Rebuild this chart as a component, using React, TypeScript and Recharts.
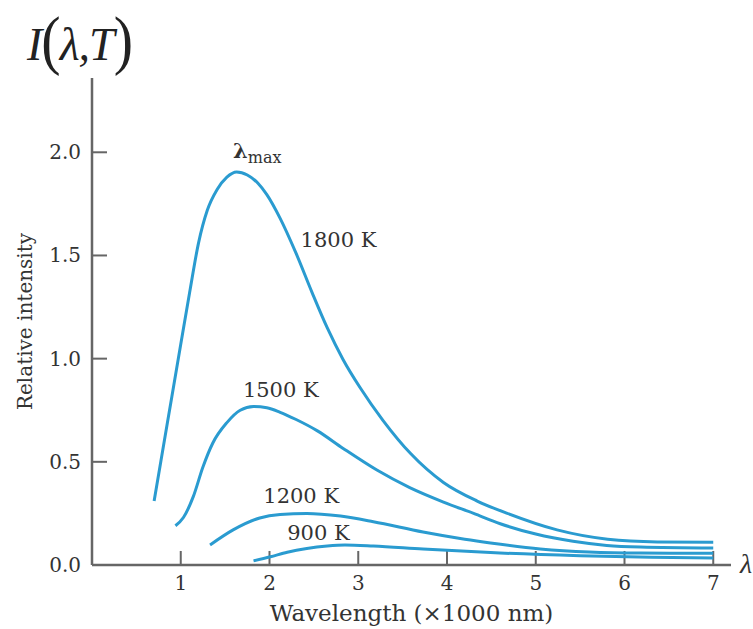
import { ComposedChart, Line, Scatter, XAxis, YAxis, ReferenceDot, ReferenceLine } from 'recharts'

// wavelength (x1000 nm) and relative intensity
const wl1800 = [0.70, 0.85, 1.00, 1.10, 1.20, 1.30, 1.41, 1.52, 1.63, 1.75, 1.87, 1.97, 2.12, 2.30, 2.48, 2.65, 2.83, 3.02, 3.28, 3.59, 3.96, 4.34, 4.68, 5.24, 5.81, 6.37, 7.00]
const int1800 = [0.31, 0.69, 1.07, 1.32, 1.56, 1.72, 1.82, 1.88, 1.905, 1.89, 1.85, 1.795, 1.68, 1.51, 1.32, 1.15, 0.995, 0.86, 0.70, 0.54, 0.40, 0.31, 0.25, 0.17, 0.125, 0.112, 0.11]

const wl1500 = [0.94, 1.03, 1.14, 1.25, 1.36, 1.52, 1.67, 1.82, 1.97, 2.12, 2.30, 2.54, 2.83, 3.21, 3.58, 3.96, 4.30, 4.60, 5.00, 5.42, 5.80, 6.18, 7.00]
const int1500 = [0.19, 0.23, 0.33, 0.475, 0.59, 0.69, 0.75, 0.768, 0.762, 0.74, 0.705, 0.65, 0.565, 0.46, 0.375, 0.305, 0.25, 0.20, 0.15, 0.115, 0.095, 0.087, 0.082]

const wl1200 = [1.33, 1.59, 1.89, 2.12, 2.42, 2.80, 3.17, 3.73, 4.20, 4.49, 5.05, 5.60, 6.18, 7.00]
const int1200 = [0.097, 0.17, 0.228, 0.245, 0.25, 0.237, 0.21, 0.16, 0.125, 0.107, 0.078, 0.063, 0.058, 0.057]

const wl900 = [1.82, 2.01, 2.20, 2.42, 2.65, 2.85, 3.17, 3.73, 4.49, 5.50, 6.30, 7.00]
const int900 = [0.02, 0.04, 0.062, 0.08, 0.092, 0.097, 0.092, 0.077, 0.06, 0.045, 0.037, 0.034]

const xTicks = [1, 2, 3, 4, 5, 6, 7]
const yTicks = [0, 0.5, 1.0, 1.5, 2.0]

// curve labels: [text, x, y] (left edge / baseline in data units)
const curveLabels: [string, number, number][] = [
  ['1800 K', 2.35, 1.54],
  ['1500 K', 1.70, 0.814],
  ['1200 K', 1.93, 0.30],
  ['900 K', 2.20, 0.121],
]

const zip = (xs: number[], ys: number[]) => xs.map((x, i) => ({ x, v: ys[i] }))

const curveColor = '#2a9bd0'
const axisColor = '#666'
const serif = '"DejaVu Serif", serif'
const textColor = '#333'
// inward x tick mark length, in axis units (about 14 px)
const xTickLen = 0.068

// anchor points for the inward y tick marks (on the y axis)
const yTickMarks = yTicks.slice(1).map((t) => ({ x: 0, v: t }))

function XTick({ x, y, payload }: any) {
  return (
    <text x={x} y={y + 25} textAnchor="middle" fontFamily={serif} fontSize={20} fill={textColor}>
      {payload.value}
    </text>
  )
}

function YTick({ x, y, payload }: any) {
  return (
    <text x={x - 11} y={y + 7} textAnchor="end" fontFamily={serif} fontSize={20} fill={textColor}>
      {Number(payload.value).toFixed(1)}
    </text>
  )
}

function YTickMark({ cx, cy }: any) {
  return <path d={`M${cx},${cy}h15`} stroke={axisColor} strokeWidth={2} fill="none" />
}

function CurveLabel({ viewBox, text }: any) {
  return (
    <text x={viewBox.x} y={viewBox.y} fontFamily={serif} fontSize={21} fill={textColor}>
      {text}
    </text>
  )
}

function LambdaMax({ viewBox }: any) {
  return (
    <text x={viewBox.x} y={viewBox.y} fontFamily={serif} fill={textColor}>
      <tspan fontSize={21} fontWeight="bold">λ</tspan>
      <tspan fontSize={16} dy={5}>max</tspan>
    </text>
  )
}

const parenStyle = { fontSize: 58, display: 'inline-block', transform: 'scaleY(1.12)', fontStyle: 'normal' }

export default function App() {
  return (
    <div style={{ position: 'absolute', left: 0, top: 0, width: 753, height: 629, overflow: 'hidden', background: '#fff' }}>
      <div
        style={{
          position: 'absolute',
          left: 27,
          top: 8,
          fontFamily: '"Liberation Serif", serif',
          fontStyle: 'italic',
          fontSize: 46,
          color: '#222',
          lineHeight: '66px',
          whiteSpace: 'nowrap',
          letterSpacing: -1,
        }}
      >
        I<span style={parenStyle}>(</span>λ,T<span style={parenStyle}>)</span>
      </div>
      <div
        style={{
          position: 'absolute',
          left: 740,
          top: 548,
          fontFamily: '"Liberation Serif", serif',
          fontStyle: 'italic',
          fontSize: 28,
          color: '#333',
        }}
      >
        λ
      </div>
      <ComposedChart width={753} height={629} margin={{ top: 78, right: 22, left: 0, bottom: 0 }}>
        <XAxis
          dataKey="x"
          type="number"
          domain={[0, 7.2]}
          ticks={xTicks}
          height={64}
          tickSize={0}
          tickMargin={0}
          tickLine={false}
          tick={<XTick />}
          axisLine={{ stroke: axisColor, strokeWidth: 2.5 }}
          label={{
            value: 'Wavelength (×1000 nm)',
            position: 'insideBottom',
            offset: 8,
            style: { fontFamily: serif, fontSize: 23, fill: textColor },
          }}
        />
        <YAxis
          type="number"
          domain={[0, 2.36]}
          ticks={yTicks}
          width={92}
          tickSize={0}
          tickMargin={0}
          tickLine={false}
          tick={<YTick />}
          axisLine={{ stroke: axisColor, strokeWidth: 2.5 }}
          label={{
            value: 'Relative intensity',
            angle: -90,
            position: 'insideLeft',
            offset: 25,
            style: { textAnchor: 'middle', fontFamily: serif, fontSize: 20, fill: textColor },
          }}
        />
        {xTicks.map((t) => (
          <ReferenceLine key={'xt' + t} segment={[{ x: t, y: 0 }, { x: t, y: xTickLen }]} stroke={axisColor} strokeWidth={2} ifOverflow="visible" />
        ))}
        <Scatter data={yTickMarks} dataKey="v" shape={YTickMark} isAnimationActive={false} />
        <Line data={zip(wl1800, int1800)} dataKey="v" type="monotone" stroke={curveColor} strokeWidth={3} dot={false} isAnimationActive={false} />
        <Line data={zip(wl1500, int1500)} dataKey="v" type="monotone" stroke={curveColor} strokeWidth={3} dot={false} isAnimationActive={false} />
        <Line data={zip(wl1200, int1200)} dataKey="v" type="monotone" stroke={curveColor} strokeWidth={3} dot={false} isAnimationActive={false} />
        <Line data={zip(wl900, int900)} dataKey="v" type="monotone" stroke={curveColor} strokeWidth={3} dot={false} isAnimationActive={false} />
        {curveLabels.map(([text, x, y]) => (
          <ReferenceDot key={text} x={x} y={y} r={0} stroke="none" fill="none" label={<CurveLabel text={text} />} />
        ))}
        <ReferenceDot x={1.59} y={1.97} r={0} stroke="none" fill="none" label={<LambdaMax />} />
      </ComposedChart>
    </div>
  )
}
